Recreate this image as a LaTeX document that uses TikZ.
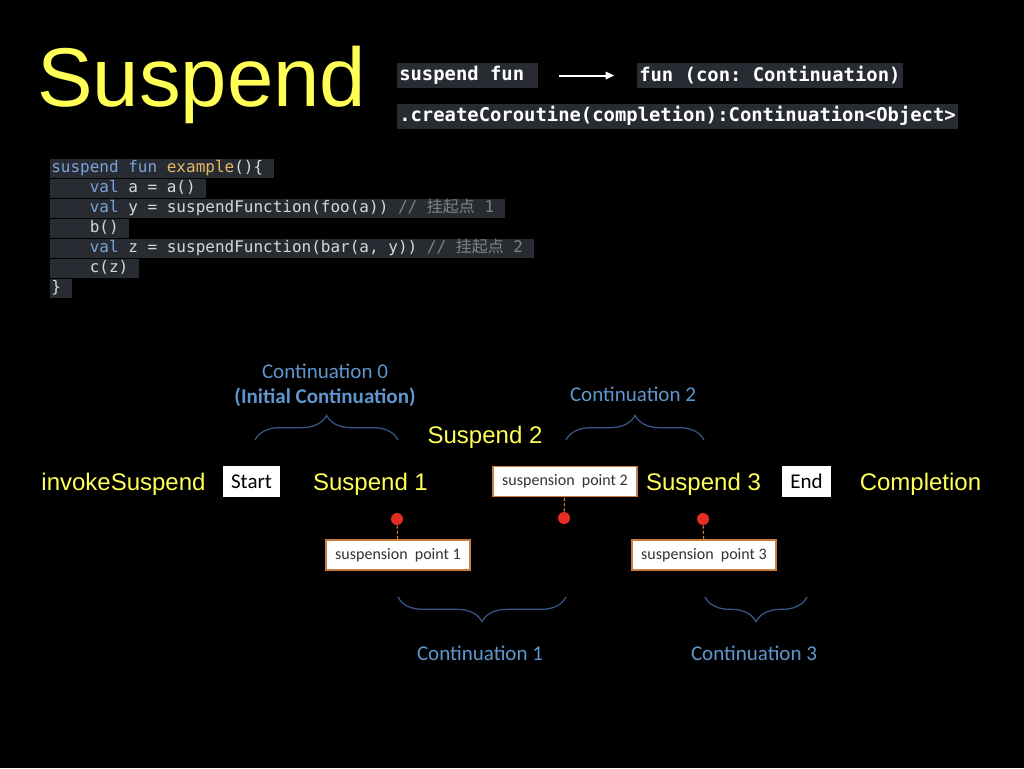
\documentclass[tikz,border=0pt]{standalone}
\usepackage{fontspec}
\setmainfont{Liberation Sans}
\setmonofont{DejaVu Sans Mono}
\newfontfamily\cjk{Noto Sans CJK SC}
\newfontfamily\calfont{Carlito}
\usetikzlibrary{decorations.pathreplacing,arrows.meta}
\newcommand\tsp{\kern0.602em}
\definecolor{ylw}{RGB}{255,255,85}
\definecolor{codebg}{RGB}{40,44,50}
\definecolor{kw}{RGB}{122,162,218}
\definecolor{fn}{RGB}{230,184,100}
\definecolor{cm}{RGB}{128,128,128}
\definecolor{ctext}{RGB}{215,215,215}
\definecolor{contc}{RGB}{95,150,205}
\definecolor{bracec}{RGB}{55,85,135}
\definecolor{spborder}{RGB}{200,125,65}
\definecolor{dotred}{RGB}{230,45,35}
\begin{document}
\begin{tikzpicture}[x=0.75pt,y=-0.75pt,
  yel/.style={text=ylw, font=\fontsize{18}{20}\selectfont, inner sep=0, anchor=base},
  cont/.style={text=contc, font=\calfont\fontsize{15.75}{18}\selectfont, inner sep=0, anchor=base},
  topcode/.style={fill=codebg, text=white, font=\ttfamily\bfseries\fontsize{14.15}{16}\selectfont, anchor=west, inner xsep=1.5pt, inner ysep=0pt, minimum height=18.75pt},
  codeline/.style={fill=codebg, text=ctext, font=\ttfamily\fontsize{12}{14}\selectfont, anchor=west, inner xsep=0.75pt, inner ysep=0pt, minimum height=14.25pt, text height=9pt, text depth=2.5pt},
  whitebox/.style={fill=white, text=black, font=\calfont\fontsize{15.75}{18}\selectfont, inner sep=0pt},
  spbox/.style={fill=white, draw=spborder, line width=1.1pt, text=black!80, font=\calfont\fontsize{12}{14}\selectfont, minimum width=108pt, minimum height=22.5pt, inner sep=0pt},
  reddot/.style={circle, fill=dotred, minimum size=9pt, inner sep=0pt},
  brc/.style={draw=bracec, line width=0.95pt, decorate, decoration={brace, amplitude=18.5pt}},
  dsh/.style={draw=spborder, dash pattern=on 2.5pt off 1.5pt, line width=0.8pt}
]
\fill[black] (0,0) rectangle (1024,768);
\useasboundingbox (0,0) rectangle (1024,768);

% title
\node[anchor=base west, inner sep=0pt, text=ylw, font=\fontsize{62.5}{70}\selectfont] (title) at (37,106) {Suspend};

% top code
\node[topcode] (sf) at (397,75.5) {suspend fun\tsp};
\node[topcode] (fc) at (637,75.5) {fun (con: Continuation)};
\node[topcode] (cc) at (397,116) {.createCoroutine(completion):Continuation<Object>};
\draw[white, line width=1.5pt, -{Triangle[length=6.5pt,width=5.5pt]}, shorten <=16pt, shorten >=17pt] (sf) -- (fc);

% code block
\node[codeline] (l1) at (50,168.5) {\textcolor{kw}{suspend fun} \textcolor{fn}{example}()\{\tsp};
\node[codeline] (l2) at (50,188.5) {~~~~\textcolor{kw}{val} a = a()\tsp};
\node[codeline] (l3) at (50,208.5) {~~~~\textcolor{kw}{val} y = suspendFunction(foo(a)) \textcolor{cm}{//~{\cjk 挂起点}~1}\tsp};
\node[codeline] (l4) at (50,228.5) {~~~~b()\tsp};
\node[codeline] (l5) at (50,248.5) {~~~~\textcolor{kw}{val} z = suspendFunction(bar(a, y)) \textcolor{cm}{//~{\cjk 挂起点}~2}\tsp};
\node[codeline] (l6) at (50,268.5) {~~~~c(z)\tsp};
\node[codeline] (l7) at (50,288.5) {\}\tsp};

% timeline labels
\node[yel] (inv) at (123.5,490) {invokeSuspend};
\node[whitebox, minimum width=42.75pt, minimum height=23pt] (start) at (251.5,481.5) {Start};
\node[yel] (s1) at (370.5,490) {Suspend 1};
\node[yel] (s2) at (485,443) {Suspend 2};
\node[spbox] (sp2) at (565,481.5) {suspension~~point 2};
\node[yel] (s3) at (703.5,490) {Suspend 3};
\node[whitebox, minimum width=36.75pt, minimum height=23.25pt] (end) at (806.5,481.5) {End};
\node[yel] (comp) at (920.5,490) {Completion};

% suspension points
\node[reddot] (d1) at (397,519) {};
\node[reddot] (d2) at (564,518) {};
\node[reddot] (d3) at (703,519) {};
\node[spbox] (sp1) at (398,555) {suspension~~point 1};
\node[spbox] (sp3) at (704,555) {suspension~~point 3};
\draw[dsh] (d1) -- (sp1);
\draw[dsh] (d2) -- (sp2);
\draw[dsh] (d3) -- (sp3);

% braces
\coordinate (b0l) at (255,440);
\coordinate (b0r) at (398,440);
\coordinate (b2l) at (566,440);
\coordinate (b2r) at (704,440);
\coordinate (b1l) at (398,597);
\coordinate (b1r) at (566,597);
\coordinate (b3l) at (705,597);
\coordinate (b3r) at (807,597);
\draw[brc] (b0l) -- (b0r);
\draw[brc] (b2l) -- (b2r);
\draw[brc] (b1r) -- (b1l);
\draw[brc] (b3r) -- (b3l);

% continuation labels
\node[cont] (c0) at (325,378) {Continuation 0};
\node[cont, font=\calfont\bfseries\fontsize{15.75}{18}\selectfont] (c0b) at (325,403) {(Initial Continuation)};
\node[cont] (c2) at (633,401) {Continuation 2};
\node[cont] (c1) at (480,660) {Continuation 1};
\node[cont] (c3) at (754,660) {Continuation 3};
\end{tikzpicture}
\end{document}
